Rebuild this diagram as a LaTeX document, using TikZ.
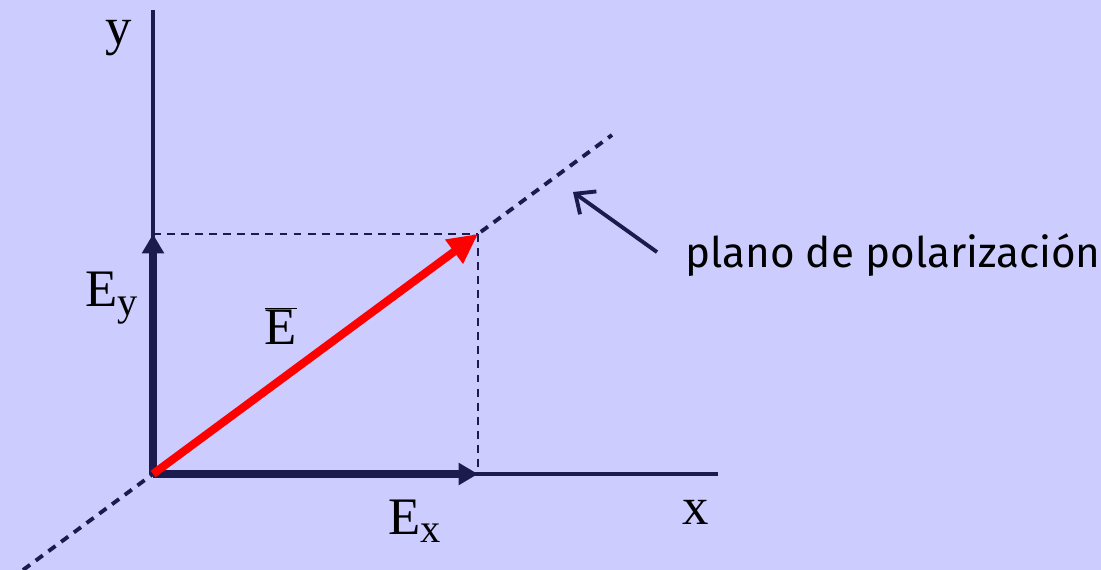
\documentclass[tikz,border=0pt]{standalone}
\usepackage{fontspec}
\setmainfont{Liberation Serif}
\newfontfamily\notefont{Fira Sans}
\usetikzlibrary{arrows.meta}

\definecolor{bgviolet}{HTML}{CCCCFF}
\definecolor{axisnavy}{HTML}{1B1B4D}

% component label: big E with a lowered small letter
\newcommand{\compE}[1]{E\raisebox{-5pt}{\fontsize{23}{23}\selectfont #1}}

\begin{document}
\begin{tikzpicture}[
  x=0.02cm, y=-0.02cm,
  axis/.style={draw=axisnavy, line width=2.2pt},
  comp/.style={draw=axisnavy, line width=4.6pt,
               -{Triangle[length=11pt,width=12pt]}},
  field/.style={draw=red, line width=4.6pt,
                -{Triangle[length=17pt,width=16pt]}},
  guide/.style={draw=axisnavy, line width=1.3pt, dash pattern=on 4.5pt off 3.5pt},
  plane/.style={draw=axisnavy, line width=2.2pt, dash pattern=on 5pt off 4pt},
  pointer/.style={draw=axisnavy, line width=2.2pt,
                  -{Straight Barb[length=9pt,width=16pt]}},
  lbl/.style={font=\fontsize{30}{32}\selectfont, inner sep=0pt, anchor=base},
  complbl/.style={lbl, anchor=base west},
  notelbl/.style={font=\notefont\fontsize{24}{26}\selectfont, inner ysep=0pt,
                  inner xsep=0.56cm, anchor=base west},
]

% --- frame ---
\fill[bgviolet] (0,0) rectangle (1101,570);
\useasboundingbox (0,0) rectangle (1101,570);

% --- points ---
\coordinate (O)      at (153,474);
\coordinate (ytop)   at (153,10);
\coordinate (xend)   at (718,474);
\coordinate (eyTip)  at (153,234);
\coordinate (exTip)  at (478,474);
\coordinate (P)      at (478,234);
\coordinate (planeLo) at (23,570);
\coordinate (planeHi) at (612,135);
\coordinate (noteTip) at (573,192);

% =========================================================
% axes and polarization plane
% =========================================================
\draw[axis] (O) -- (ytop);
\draw[axis] (O) -- (xend);
\draw[plane] (planeLo) -- (planeHi);

% =========================================================
% projections and components
% =========================================================
\draw[guide] (eyTip) -- (P);
\draw[guide] (P) -- (exTip);
\draw[comp] (O) -- (eyTip);
\draw[comp] (O) -- (exTip);
\draw[field] (O) -- (P);

% --- labels ---
\node[lbl] (ylbl) at (119,45) {y};
\node[lbl] (xlbl) at (696,524) {x};
\node[complbl] (eylbl) at (85,307) {\compE{y}};
\node[complbl] (exlbl) at (388,534) {\compE{x}};
\node[lbl] (elbl) at (281,345) {$\overline{\hbox{E}}$};

% --- plane annotation ---
\node[notelbl] (plano) at (657,268) {plano de polarización};
\draw[pointer] ([yshift=2pt]plano.west) -- (noteTip);

\end{tikzpicture}
\end{document}
